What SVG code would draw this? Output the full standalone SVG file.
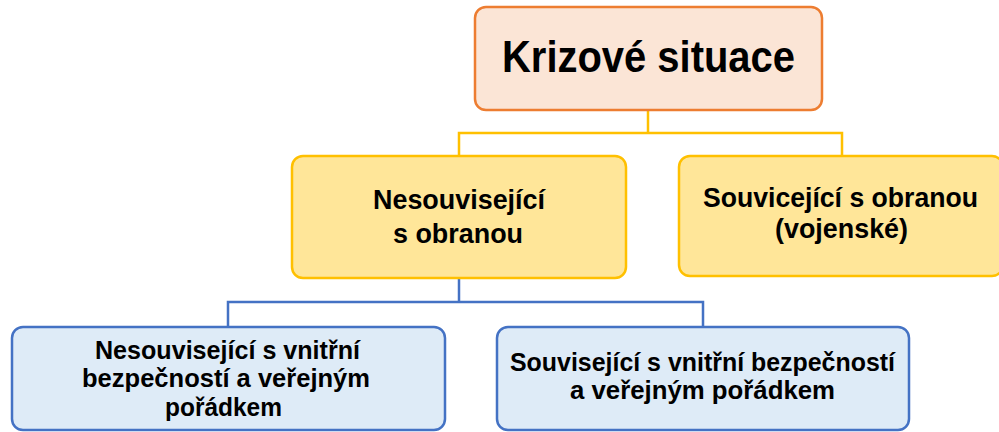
<svg xmlns="http://www.w3.org/2000/svg" width="999" height="432" viewBox="0 0 999 432">
<style>
text{font-family:"Liberation Sans",Arial,sans-serif;font-weight:bold;fill:#000;text-anchor:middle}
.orange{fill:#FBE5D6;stroke:#ED7D31;stroke-width:2.5}
.yellow{fill:#FFE699;stroke:#FFC000;stroke-width:2.5}
.blue{fill:#DEEBF7;stroke:#4472C4;stroke-width:2.5}
.cy{fill:none;stroke:#FFC000;stroke-width:2.5}
.cb{fill:none;stroke:#4472C4;stroke-width:2.5}
</style>
<rect width="999" height="432" fill="#fff"/>
<g id="connectors">
<polyline class="cy" points="648,110 648,133"/>
<polyline class="cy" points="459,156 459,133 842,133 842,156"/>
<polyline class="cb" points="459,278 459,302"/>
<polyline class="cb" points="228,327 228,302 703,302 703,327"/>
</g>
<g id="root">
<rect class="orange" x="475" y="7" width="347" height="103" rx="11"/>
<text x="648.5" y="72" font-size="45" textLength="293" lengthAdjust="spacingAndGlyphs">Krizové situace</text>
</g>
<g id="nesouvisejici">
<rect class="yellow" x="292" y="156" width="334" height="122" rx="11"/>
<text x="459" y="209" font-size="28" textLength="172" lengthAdjust="spacingAndGlyphs">Nesouvisející</text>
<text x="458" y="243" font-size="28" textLength="130" lengthAdjust="spacingAndGlyphs">s obranou</text>
</g>
<g id="souvisejici">
<rect class="yellow" x="679" y="156" width="324" height="120" rx="11"/>
<text x="840.5" y="207" font-size="28" textLength="275" lengthAdjust="spacingAndGlyphs">Souvicející s obranou</text>
<text x="841.5" y="238" font-size="28" textLength="133" lengthAdjust="spacingAndGlyphs">(vojenské)</text>
</g>
<g id="nesouvisejici-vnitrni">
<rect class="blue" x="12" y="327" width="433" height="103" rx="11"/>
<text x="227.5" y="359" font-size="26.5" textLength="265" lengthAdjust="spacingAndGlyphs">Nesouvisející s vnitřní</text>
<text x="226" y="387" font-size="26.5" textLength="288" lengthAdjust="spacingAndGlyphs">bezpečností a veřejným</text>
<text x="223.5" y="416" font-size="26.5" textLength="117" lengthAdjust="spacingAndGlyphs">pořádkem</text>
</g>
<g id="souvisejici-vnitrni">
<rect class="blue" x="497" y="327" width="412" height="103" rx="11"/>
<text x="702.5" y="371" font-size="26.5" textLength="385" lengthAdjust="spacingAndGlyphs">Související s vnitřní bezpečností</text>
<text x="702.5" y="399" font-size="26.5" textLength="265" lengthAdjust="spacingAndGlyphs">a veřejným pořádkem</text>
</g>
</svg>
